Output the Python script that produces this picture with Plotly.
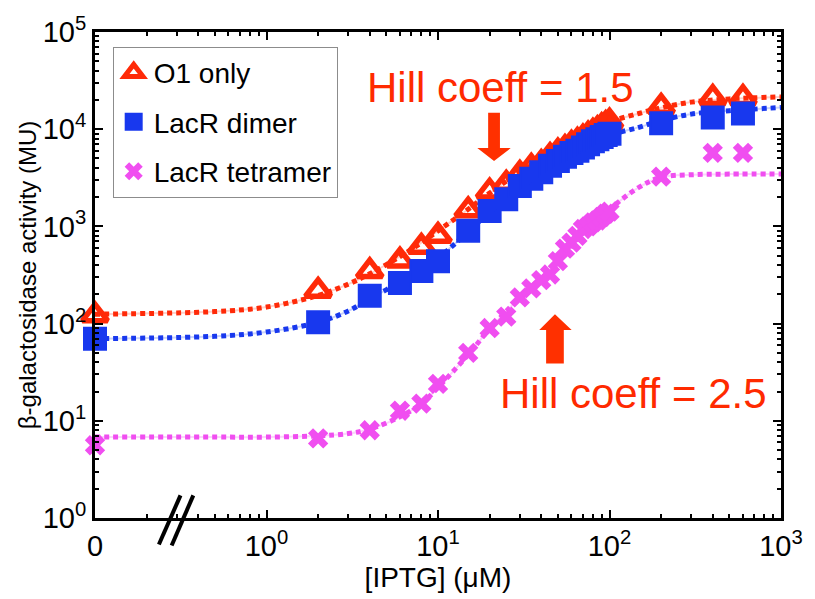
import plotly.graph_objects as go

# ---- measured β-galactosidase activity (MU) vs IPTG (µM) ----
iptg = [0, 2, 4, 6, 8, 10, 15, 20, 25, 30, 35, 40, 45, 50, 55, 60, 65, 70,
        75, 80, 85, 90, 95, 100, 200, 400, 600]
o1_only = [122, 218, 347, 446, 617, 803, 1470, 2290, 2750, 3470, 4100, 4500,
           5300, 5900, 6400, 7100, 7600, 8200, 8800, 9400, 10000, 10700,
           11300, 12000, 17000, 21000, 21000]
lacr_dimer = [70, 103, 194, 262, 347, 437, 900, 1440, 1900, 2600, 3100, 3600,
              4200, 4700, 5200, 5700, 6000, 6500, 7000, 7500, 7900, 8300,
              8700, 9000, 11500, 13200, 14500]
lacr_tetramer = [5.6, 6.6, 8, 12.7, 15, 24, 50, 90, 118, 186, 230, 280, 320,
                 440, 590, 680, 800, 940, 1000, 1100, 1150, 1250, 1350, 1420,
                 3250, 5700, 5700]

# ---- Hill-fit curves ----
fit_x = [0, 0.5, 1, 2, 3, 4, 6, 8, 10, 15, 20, 30, 50, 70, 100, 150, 200,
         300, 500, 1000]
fit_o1 = [125, 133, 148, 195, 255, 325, 490, 680, 900, 1500, 2200, 3650,
          6500, 9000, 11900, 14600, 16600, 19000, 20500, 21500]
fit_dimer = [70, 74, 82, 103, 135, 180, 265, 350, 470, 880, 1420, 2650, 4800,
             6800, 8700, 10500, 12300, 14300, 15500, 16700]
fit_tetramer = [6.8, 6.8, 6.8, 7.0, 7.4, 8.2, 11, 15, 22, 48, 88, 185, 430,
                850, 1500, 2550, 3200, 3400, 3450, 3450]

series_names = ["O1 only", "LacR dimer", "LacR tetramer"]
x_tick_vals = [0, 1, 10, 100, 1000]
x_tick_text = ["0", "10<sup>0</sup>", "10<sup>1</sup>", "10<sup>2</sup>", "10<sup>3</sup>"]
y_tick_vals = [1, 10, 100, 1000, 10000, 100000]
y_tick_text = ["10<sup>0</sup>", "10<sup>1</sup>", "10<sup>2</sup>",
               "10<sup>3</sup>", "10<sup>4</sup>", "10<sup>5</sup>"]
hill_labels = ["Hill coeff = 1.5", "Hill coeff = 2.5"]

# zero concentration sits one decade left of 10^0, past the axis break
ZERO_POS = 0.1


def on_axis(xs):
    return [v if v > 0 else ZERO_POS for v in xs]


RED = "#ff2a08"
BLUE = "#1838ee"
MAGENTA = "#f04ef0"
FONT = "Liberation Sans, Arial, sans-serif"

fig = go.Figure()

# dotted fit curves underneath the symbols
for ys, col, light in [(fit_o1, RED, "rgba(255,60,30,0.25)"),
                       (fit_dimer, BLUE, "rgba(40,70,240,0.25)"),
                       (fit_tetramer, MAGENTA, "rgba(240,80,240,0.25)")]:
    fig.add_trace(go.Scatter(x=on_axis(fit_x), y=ys, mode="lines",
                             line=dict(color=light, width=2, shape="spline"),
                             showlegend=False, hoverinfo="skip"))
    fig.add_trace(go.Scatter(x=on_axis(fit_x), y=ys, mode="lines",
                             line=dict(color=col, width=5, dash="5px,4px",
                                       shape="spline"),
                             showlegend=False, hoverinfo="skip"))

marker_styles = [
    dict(symbol="triangle-up-open", size=22, color=RED,
         line=dict(color=RED, width=5.5)),
    dict(symbol="square", size=22, color=BLUE,
         line=dict(color=BLUE, width=2)),
    dict(symbol="x", size=18, color=MAGENTA, line=dict(width=0)),
]
for name, ys, mk in zip(series_names, [o1_only, lacr_dimer, lacr_tetramer],
                        marker_styles):
    fig.add_trace(go.Scatter(x=on_axis(iptg), y=ys, mode="markers", name=name,
                             marker=mk, cliponaxis=False, legendgroup=name))

# ---- block arrows and the axis-break marks (pixel geometry -> paper) ----
L, R, T, B = 95, 793, 30, 524


def P(px, py):
    return (px - L) / (R - L), (B - py) / (B - T)


def path(points):
    pts = [P(*p) for p in points]
    return "M " + " L ".join(f"{x:.4f},{y:.4f}" for x, y in pts) + " Z"


down_arrow = [(495, 112), (507, 112), (507, 148), (518, 148), (501, 161),
              (484, 148), (495, 148)]
up_arrow = [(563, 317), (580, 333), (572, 333), (572, 367), (554, 367),
            (554, 333), (547, 333)]
shapes = []
for arr in (down_arrow, up_arrow):
    shapes.append(dict(type="path", xref="paper", yref="paper", path=path(arr),
                       fillcolor="#ff3000", line=dict(width=0)))
for (x0, y0, x1, y1) in [(160, 551, 182, 501), (173, 552, 195, 501)]:
    a, b = P(x0, y0)
    c, d = P(x1, y1)
    shapes.append(dict(type="line", xref="paper", yref="paper", x0=a, y0=b,
                       x1=c, y1=d, line=dict(color="black", width=4)))

ax0, ay0 = P(370, 86)
ax1, ay1 = P(505, 397)
annotations = [
    dict(text=hill_labels[0], x=ax0, y=ay0, xref="paper", yref="paper",
         xanchor="left", yanchor="middle", showarrow=False,
         font=dict(family=FONT, size=42, color="#ff2a00")),
    dict(text=hill_labels[1], x=ax1, y=ay1, xref="paper", yref="paper",
         xanchor="left", yanchor="middle", showarrow=False,
         font=dict(family=FONT, size=42, color="#ff2a00")),
]

minor_x = [m * 10 ** k for k in range(-1, 3) for m in range(2, 10)]
minor_y = [m * 10 ** k for k in range(0, 5) for m in range(2, 10)]

axis_common = dict(showline=True, linecolor="black", linewidth=3,
                   mirror="ticks", ticks="inside", ticklen=8, tickwidth=2,
                   tickcolor="black", showgrid=False, zeroline=False,
                   tickfont=dict(family=FONT, size=29, color="black"))

fig.update_layout(
    width=815, height=599,
    margin=dict(l=L, r=815 - R, t=T, b=599 - B),
    paper_bgcolor="white", plot_bgcolor="white",
    font=dict(family=FONT, color="black"),
    xaxis=dict(type="log", range=[-1, 3], tickvals=on_axis(x_tick_vals),
               ticktext=x_tick_text,
               minor=dict(tickvals=minor_x, ticks="inside", ticklen=4,
                          tickwidth=1.5, tickcolor="black"),
               title=dict(text="[IPTG] (μM)", standoff=6,
                          font=dict(family=FONT, size=28, color="black")),
               **axis_common),
    yaxis=dict(type="log", range=[0, 5], tickvals=y_tick_vals,
               ticktext=y_tick_text,
               minor=dict(tickvals=minor_y, ticks="inside", ticklen=4,
                          tickwidth=1.5, tickcolor="black"),
               title=dict(text="β-galactosidase activity (MU)", standoff=0,
                          font=dict(family=FONT, size=24, color="black")),
               **axis_common),
    legend=dict(x=P(113, 45)[0], y=P(113, 45)[1], xanchor="left",
                yanchor="top", bgcolor="white", bordercolor="#8c8c8c",
                borderwidth=1, tracegroupgap=10,
                font=dict(family=FONT, size=28, color="black")),
    shapes=shapes,
    annotations=annotations,
    showlegend=True,
)

fig.write_html("out.html")
